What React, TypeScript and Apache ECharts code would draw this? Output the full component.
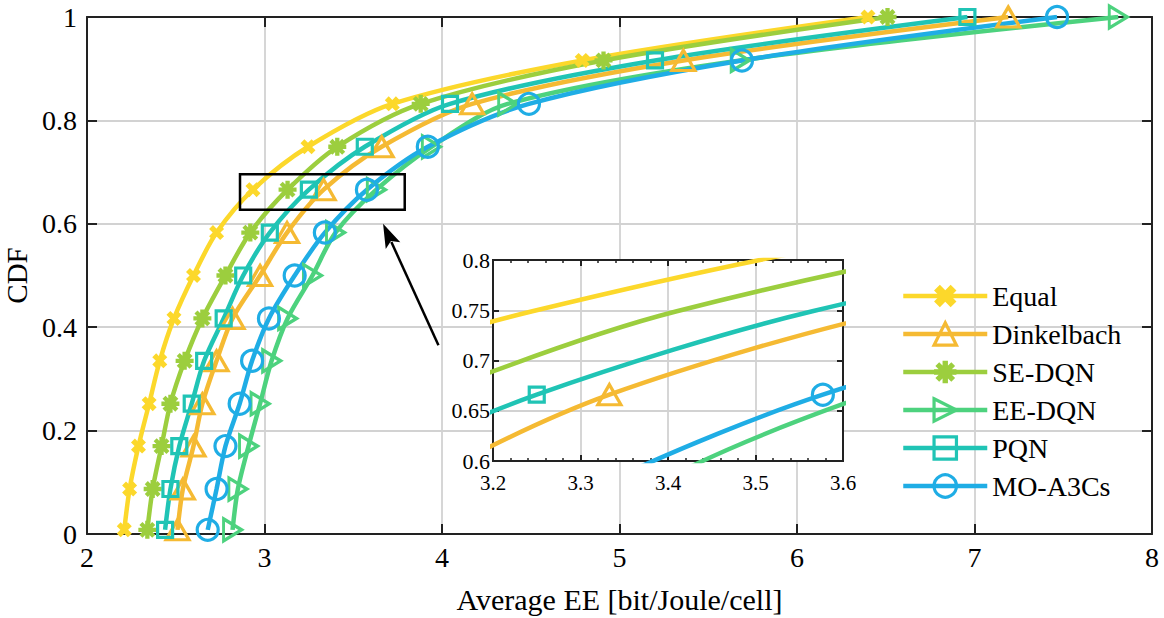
import React, { useEffect, useRef } from "react";
import * as echarts from "echarts";

const FONT = "'Liberation Serif', 'Times New Roman', Times, serif";

// CDF levels where markers are placed
const cdfLevels = [0.008, 0.087, 0.17, 0.252, 0.335, 0.417, 0.5, 0.583, 0.666, 0.749, 0.832, 0.916, 1.0];

// Average EE values (x) at each CDF level
const equalEE = [2.21, 2.24, 2.29, 2.35, 2.41, 2.49, 2.6, 2.73, 2.935, 3.245, 3.72, 4.79, 6.4];
const dinkelbachEE = [2.51, 2.54, 2.6, 2.65, 2.73, 2.82, 2.975, 3.127, 3.333, 3.66, 4.17, 5.36, 7.19];
const seDqnEE = [2.34, 2.37, 2.42, 2.47, 2.55, 2.65, 2.78, 2.92, 3.13, 3.41, 3.88, 4.91, 6.51];
const eeDqnEE = [2.82, 2.85, 2.91, 2.975, 3.04, 3.13, 3.27, 3.4, 3.63, 3.94, 4.37, 5.68, 7.81];
const pqnEE = [2.44, 2.47, 2.52, 2.59, 2.66, 2.77, 2.88, 3.03, 3.25, 3.565, 4.045, 5.2, 6.96];
const moA3CsEE = [2.68, 2.73, 2.78, 2.86, 2.93, 3.025, 3.17, 3.34, 3.577, 3.92, 4.49, 5.69, 7.465];

const seriesNames = ["Equal", "Dinkelbach", "SE-DQN", "EE-DQN", "PQN", "MO-A3Cs"];

// in the zoomed inset only the markers of this CDF level are drawn
const insetMarkerLevelIndex = 8;

const xTickMain = { min: 2, max: 8, interval: 1 };
const yTickMain = { min: 0, max: 1, interval: 0.2 };
const xTickInset = { min: 3.2, max: 3.6, interval: 0.1 };
const yTickInset = { min: 0.6, max: 0.8, interval: 0.05 };

const X_PATH = "path://M0,2.6 L2.6,0 L5,2.4 L7.4,0 L10,2.6 L7.6,5 L10,7.4 L7.4,10 L5,7.6 L2.6,10 L0,7.4 L2.4,5 Z";
const AST_PATH =
  "path://M0,3.8 L10,3.8 L10,6.2 L0,6.2 Z M3.8,0 L6.2,0 L6.2,10 L3.8,10 Z " +
  "M2.3,0.6 L9.4,7.7 L7.7,9.4 L0.6,2.3 Z M9.4,2.3 L2.3,9.4 L0.6,7.7 L7.7,0.6 Z";
const RTRI_PATH = "path://M0,0 L10,5 L0,10 Z";

type Style = { color: string; symbol: string; size: any; hollow: boolean };
const styles: Style[] = [
  { color: "#FCD82B", symbol: X_PATH, size: 15, hollow: false },
  { color: "#F5BA33", symbol: "triangle", size: [23, 20], hollow: true },
  { color: "#9CCE3E", symbol: AST_PATH, size: 18, hollow: false },
  { color: "#4DD27E", symbol: RTRI_PATH, size: [18, 22], hollow: true },
  { color: "#20C4B5", symbol: "rect", size: 15, hollow: true },
  { color: "#1FADE5", symbol: "circle", size: 21, hollow: true },
];
const dataSets = [equalEE, dinkelbachEE, seDqnEE, eeDqnEE, pqnEE, moA3CsEE];

function makeSeries(idx: number, inset: boolean) {
  const st = styles[idx];
  return {
    type: "line",
    name: seriesNames[idx],
    xAxisIndex: inset ? 2 : 0,
    yAxisIndex: inset ? 2 : 0,
    data: dataSets[idx].map((x, i) =>
      inset && i !== insetMarkerLevelIndex
        ? { value: [x, cdfLevels[i]], symbol: "none" }
        : { value: [x, cdfLevels[i]] }
    ),
    smooth: 0.3,
    symbol: st.symbol,
    symbolSize: st.size,
    showSymbol: true,
    showAllSymbol: true,
    clip: true,
    silent: true,
    z: inset ? 4 : 2,
    lineStyle: { color: st.color, width: 4.5 },
    itemStyle: st.hollow
      ? { color: "transparent", borderColor: st.color, borderWidth: 3.2 }
      : { color: st.color, borderWidth: 0 },
    emphasis: { disabled: true },
  };
}

function axisBase(range: any, gridIndex: number, opts: any) {
  return {
    type: "value",
    gridIndex,
    min: range.min,
    max: range.max,
    interval: range.interval,
    axisLine: { show: true, onZero: false, lineStyle: { color: "#222", width: 2 } },
    axisTick: { show: true, inside: true, length: opts.tickLen, lineStyle: { color: "#222", width: 2 } },
    axisLabel: {
      show: opts.labels,
      color: "#000",
      fontFamily: FONT,
      fontSize: opts.fontSize,
      margin: opts.margin,
    },
    splitLine: {
      show: opts.split,
      showMinLine: false,
      showMaxLine: false,
      lineStyle: { color: "#d2d2d2", width: 1.8 },
    },
    z: opts.z,
  };
}

export default function App() {
  const ref = useRef<HTMLDivElement>(null);

  useEffect(() => {
    if (!ref.current) return;
    const chart = echarts.init(ref.current, null, { renderer: "svg" });

    const mainX = {
      ...axisBase(xTickMain, 0, { tickLen: 10, labels: true, fontSize: 28, margin: 9, split: true, z: 0 }),
      position: "bottom",
      name: "Average EE [bit/Joule/cell]",
      nameLocation: "middle",
      nameGap: 50,
      nameTextStyle: { fontFamily: FONT, fontSize: 30, color: "#000" },
    };
    const mainXTop = {
      ...axisBase(xTickMain, 0, { tickLen: 10, labels: false, fontSize: 28, margin: 10, split: false, z: 0 }),
      position: "top",
    };
    const mainY = {
      ...axisBase(yTickMain, 0, { tickLen: 10, labels: true, fontSize: 28, margin: 10, split: true, z: 0 }),
      position: "left",
      name: "CDF",
      nameLocation: "middle",
      nameGap: 52,
      nameTextStyle: { fontFamily: FONT, fontSize: 29, color: "#000" },
    };
    const mainYRight = {
      ...axisBase(yTickMain, 0, { tickLen: 10, labels: false, fontSize: 28, margin: 10, split: false, z: 0 }),
      position: "right",
    };

    const minor = { show: true, splitNumber: 5, length: 3, lineStyle: { color: "#222", width: 1.5 } };
    const insetX = {
      ...axisBase(xTickInset, 1, { tickLen: 6, labels: true, fontSize: 21, margin: 11, split: true, z: 1 }),
      position: "bottom",
      minorTick: minor,
    };
    const insetXTop = {
      ...axisBase(xTickInset, 1, { tickLen: 6, labels: false, fontSize: 21, margin: 7, split: false, z: 1 }),
      position: "top",
      minorTick: minor,
    };
    const insetY = {
      ...axisBase(yTickInset, 1, { tickLen: 6, labels: true, fontSize: 22, margin: 3, split: true, z: 1 }),
      position: "left",
    };
    const insetYRight = {
      ...axisBase(yTickInset, 1, { tickLen: 6, labels: false, fontSize: 22, margin: 3, split: false, z: 1 }),
      position: "right",
    };

    const series: any[] = [];
    for (let i = 0; i < 6; i++) series.push(makeSeries(i, false));
    for (let i = 0; i < 6; i++) series.push(makeSeries(i, true));

    chart.setOption({
      animation: false,
      backgroundColor: "#fff",
      textStyle: { fontFamily: FONT },
      grid: [
        { left: 87, top: 17, right: 12, bottom: 84, show: false, z: 0, containLabel: false, outerBoundsMode: "none" },
        {
          left: 493,
          top: 260,
          width: 350,
          height: 201,
          show: true,
          backgroundColor: "#fff",
          borderColor: "#222",
          borderWidth: 2,
          z: 1,
          containLabel: false,
          outerBoundsMode: "none",
        },
      ],
      xAxis: [mainX, mainXTop, insetX, insetXTop],
      yAxis: [mainY, mainYRight, insetY, insetYRight],
      legend: {
        data: seriesNames,
        orient: "vertical",
        left: 896,
        top: 277,
        itemWidth: 84,
        itemHeight: 28,
        itemGap: 10,
        textStyle: { fontFamily: FONT, fontSize: 28, color: "#000" },
        lineStyle: { width: 4.5 },
        itemStyle: { borderWidth: 3.2 },
        backgroundColor: "transparent",
        z: 6,
      },
      series,
    });

    // annotation box and arrow, positioned in data space of main grid
    const p1 = chart.convertToPixel({ gridIndex: 0 }, [2.862, 0.696]) as number[];
    const p2 = chart.convertToPixel({ gridIndex: 0 }, [3.79, 0.627]) as number[];
    const tip = chart.convertToPixel({ gridIndex: 0 }, [3.668, 0.6]) as number[];
    const tail = chart.convertToPixel({ gridIndex: 0 }, [3.98, 0.365]) as number[];
    const dx = tip[0] - tail[0];
    const dy = tip[1] - tail[1];
    const len = Math.sqrt(dx * dx + dy * dy);
    const ux = dx / len;
    const uy = dy / len;
    const nx = -uy;
    const ny = ux;
    const headLen = 24;
    const headHalf = 8;
    const bx = tip[0] - headLen * ux;
    const by = tip[1] - headLen * uy;

    chart.setOption({
      graphic: [
        {
          type: "rect",
          z: 10,
          shape: { x: p1[0], y: p1[1], width: p2[0] - p1[0], height: p2[1] - p1[1] },
          style: { fill: "transparent", stroke: "#000", lineWidth: 2.5 },
          silent: true,
        },
        {
          type: "line",
          z: 10,
          shape: { x1: tail[0], y1: tail[1], x2: bx + 4 * ux, y2: by + 4 * uy },
          style: { stroke: "#000", lineWidth: 2.5 },
          silent: true,
        },
        {
          type: "polygon",
          z: 10,
          shape: {
            points: [
              [tip[0], tip[1]],
              [bx + headHalf * nx, by + headHalf * ny],
              [bx + 5 * ux, by + 5 * uy],
              [bx - headHalf * nx, by - headHalf * ny],
            ],
          },
          style: { fill: "#000" },
          silent: true,
        },
      ],
    });

    return () => chart.dispose();
  }, []);

  return (
    <div
      ref={ref}
      style={{ position: "fixed", left: 0, top: 0, width: 1164, height: 618, background: "#fff" }}
    />
  );
}
